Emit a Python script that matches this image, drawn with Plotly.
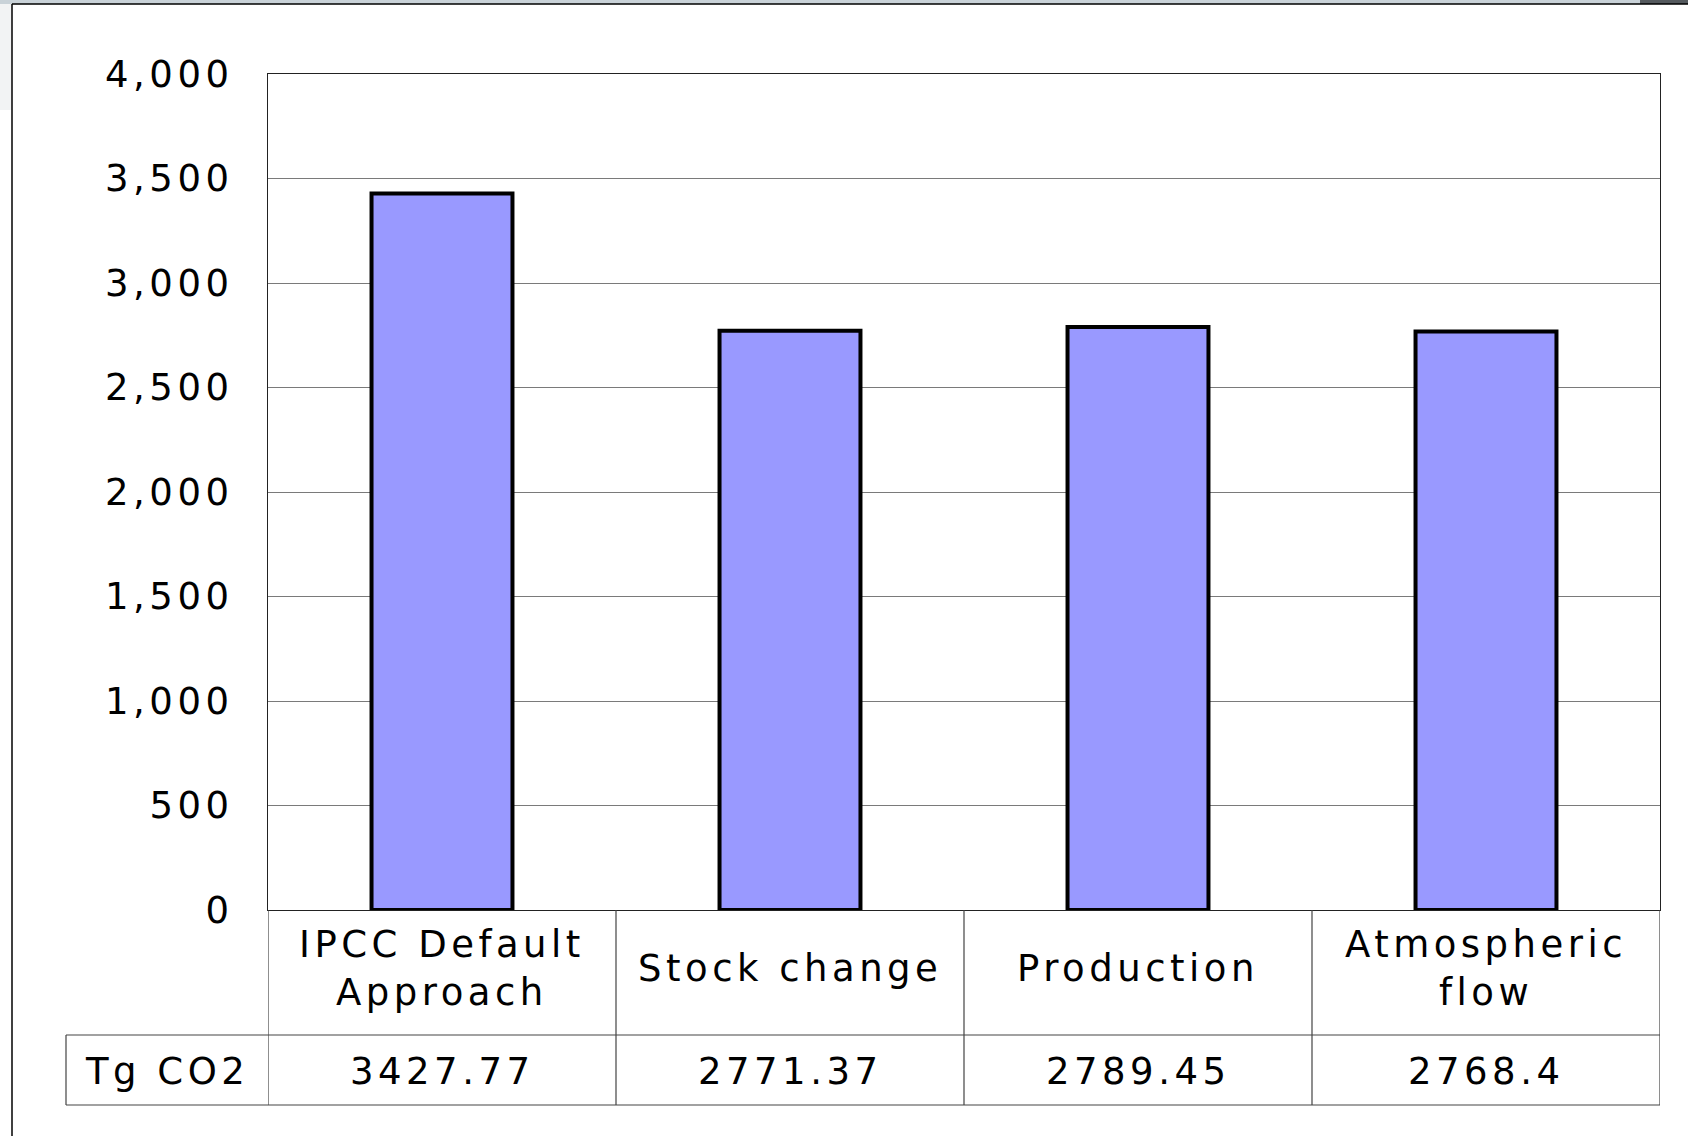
import plotly.graph_objects as go

# ---- data ----
categories = ["IPCC Default Approach", "Stock change", "Production", "Atmospheric flow"]
category_labels = ["IPCC Default<br>Approach", "Stock change", "Production", "Atmospheric<br>flow"]
values = [3427.77, 2771.37, 2789.45, 2768.4]
value_labels = ["3427.77", "2771.37", "2789.45", "2768.4"]
row_label = "Tg CO2"
y_tick_vals = [0, 500, 1000, 1500, 2000, 2500, 3000, 3500, 4000]
y_tick_text = ["0", "500", "1,000", "1,500", "2,000", "2,500", "3,000", "3,500", "4,000"]

FONT = "DejaVu Sans"
FS = 37
LS = "4.5px"


def sp(t):
    return f'<span style="letter-spacing:{LS}">{t}</span>'


W, H = 1688, 1136
L, R, T, B = 268, 1660, 74, 910
pw, ph = R - L, B - T


def px_x(x):
    return (x - L) / pw


def px_y(y):
    return (B - y) / ph


fig = go.Figure()
fig.add_trace(go.Bar(
    x=list(range(len(categories))),
    y=values,
    width=0.405,
    marker=dict(color="#9999FF", line=dict(color="black", width=4)),
    hovertext=categories,
    showlegend=False,
))

shapes = []
line_style = dict(color="#444444", width=1.2)
row1_bottom = px_y(1035)
table_bottom = px_y(1105)
tg_left = px_x(66)
# vertical separators across category columns
for b in [-0.5, 0.5, 1.5, 2.5, 3.5]:
    shapes.append(dict(type="line", xref="x", yref="paper", x0=b, x1=b,
                       y0=0, y1=table_bottom, line=line_style))
# horizontal lines of table
shapes.append(dict(type="line", xref="paper", yref="paper", x0=tg_left, x1=1,
                   y0=row1_bottom, y1=row1_bottom, line=line_style))
shapes.append(dict(type="line", xref="paper", yref="paper", x0=tg_left, x1=1,
                   y0=table_bottom, y1=table_bottom, line=line_style))
shapes.append(dict(type="line", xref="paper", yref="paper", x0=tg_left, x1=tg_left,
                   y0=row1_bottom, y1=table_bottom, line=line_style))
# outer frame (left and top)
shapes.append(dict(type="rect", xref="paper", yref="paper", x0=px_x(0), x1=px_x(12),
                   y0=px_y(110), y1=px_y(0), line=dict(width=0), fillcolor="#f2f3f4", layer="below"))
shapes.append(dict(type="rect", xref="paper", yref="paper", x0=px_x(0), x1=px_x(W),
                   y0=px_y(4), y1=px_y(0), line=dict(width=0), fillcolor="#c9d2d8", layer="below"))
shapes.append(dict(type="rect", xref="paper", yref="paper", x0=px_x(1640), x1=px_x(W),
                   y0=px_y(4), y1=px_y(0), line=dict(width=0), fillcolor="#555a5e", layer="below"))
shapes.append(dict(type="line", xref="paper", yref="paper", x0=px_x(12), x1=px_x(12),
                   y0=px_y(4), y1=px_y(H), line=dict(color="black", width=1.5)))
shapes.append(dict(type="line", xref="paper", yref="paper", x0=px_x(12), x1=px_x(W),
                   y0=px_y(4), y1=px_y(4), line=dict(color="black", width=1.5)))

annotations = []
for i, lab in enumerate(category_labels):
    parts = lab.split("<br>")
    txt = "<br>".join(sp(p) for p in parts)
    annotations.append(dict(x=i, y=px_y(968), xref="x", yref="paper", text=txt,
                            showarrow=False, xanchor="center", yanchor="middle",
                            font=dict(family=FONT, size=FS, color="black")))
for i, v in enumerate(value_labels):
    annotations.append(dict(x=i, y=px_y(1071), xref="x", yref="paper", text=sp(v),
                            showarrow=False, xanchor="center", yanchor="middle",
                            font=dict(family=FONT, size=FS, color="black")))
annotations.append(dict(x=px_x(167), y=px_y(1071), xref="paper", yref="paper", text=sp(row_label),
                        showarrow=False, xanchor="center", yanchor="middle",
                        font=dict(family=FONT, size=FS, color="black")))

fig.update_layout(
    width=W, height=H,
    margin=dict(l=L, r=W - R, t=T, b=H - B, pad=0),
    paper_bgcolor="white", plot_bgcolor="white",
    bargap=0.6,
    xaxis=dict(range=[-0.5, 3.5], showticklabels=False, showgrid=False, zeroline=False,
               showline=True, mirror=True, linecolor="#222222", linewidth=1.2, ticks=""),
    yaxis=dict(range=[0, 4000], tickvals=y_tick_vals, ticktext=[sp(t) for t in y_tick_text],
               showgrid=True, gridcolor="#7a7a7a", gridwidth=1.3, zeroline=False,
               showline=True, mirror=True, linecolor="#222222", linewidth=1.2,
               ticks="", ticklabelstandoff=26,
               tickfont=dict(family=FONT, size=FS, color="black")),
    shapes=shapes,
    annotations=annotations,
    font=dict(family=FONT),
)

fig.write_html("out.html", config={"displayModeBar": False},
               post_script="document.body.style.margin='0';document.body.style.overflow='hidden';")
